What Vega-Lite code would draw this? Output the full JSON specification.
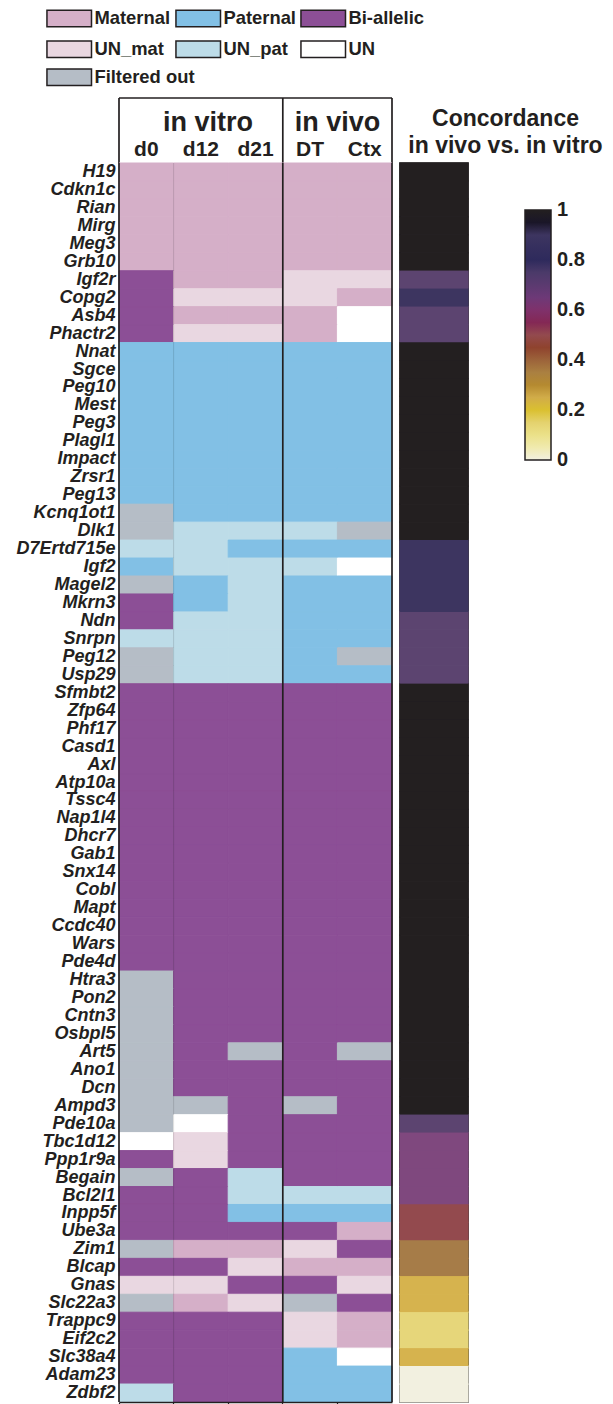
{
"$schema": "https://vega.github.io/schema/vega-lite/v6.json",
"background": "white",
"padding": {"left": 15, "top": 9, "right": 0, "bottom": 0},
"config": {"view": {"stroke": null}, "font": "Liberation Sans", "text": {"color": "#231F20", "font": "Liberation Sans"}},
"datasets": {
"cells": [
{"gene":"H19","sample":"d0","status":"Maternal"},{"gene":"H19","sample":"d12","status":"Maternal"},{"gene":"H19","sample":"d21","status":"Maternal"},{"gene":"H19","sample":"DT","status":"Maternal"},{"gene":"H19","sample":"Ctx","status":"Maternal"},
{"gene":"Cdkn1c","sample":"d0","status":"Maternal"},{"gene":"Cdkn1c","sample":"d12","status":"Maternal"},{"gene":"Cdkn1c","sample":"d21","status":"Maternal"},{"gene":"Cdkn1c","sample":"DT","status":"Maternal"},{"gene":"Cdkn1c","sample":"Ctx","status":"Maternal"},
{"gene":"Rian","sample":"d0","status":"Maternal"},{"gene":"Rian","sample":"d12","status":"Maternal"},{"gene":"Rian","sample":"d21","status":"Maternal"},{"gene":"Rian","sample":"DT","status":"Maternal"},{"gene":"Rian","sample":"Ctx","status":"Maternal"},
{"gene":"Mirg","sample":"d0","status":"Maternal"},{"gene":"Mirg","sample":"d12","status":"Maternal"},{"gene":"Mirg","sample":"d21","status":"Maternal"},{"gene":"Mirg","sample":"DT","status":"Maternal"},{"gene":"Mirg","sample":"Ctx","status":"Maternal"},
{"gene":"Meg3","sample":"d0","status":"Maternal"},{"gene":"Meg3","sample":"d12","status":"Maternal"},{"gene":"Meg3","sample":"d21","status":"Maternal"},{"gene":"Meg3","sample":"DT","status":"Maternal"},{"gene":"Meg3","sample":"Ctx","status":"Maternal"},
{"gene":"Grb10","sample":"d0","status":"Maternal"},{"gene":"Grb10","sample":"d12","status":"Maternal"},{"gene":"Grb10","sample":"d21","status":"Maternal"},{"gene":"Grb10","sample":"DT","status":"Maternal"},{"gene":"Grb10","sample":"Ctx","status":"Maternal"},
{"gene":"Igf2r","sample":"d0","status":"Bi-allelic"},{"gene":"Igf2r","sample":"d12","status":"Maternal"},{"gene":"Igf2r","sample":"d21","status":"Maternal"},{"gene":"Igf2r","sample":"DT","status":"UN_mat"},{"gene":"Igf2r","sample":"Ctx","status":"UN_mat"},
{"gene":"Copg2","sample":"d0","status":"Bi-allelic"},{"gene":"Copg2","sample":"d12","status":"UN_mat"},{"gene":"Copg2","sample":"d21","status":"UN_mat"},{"gene":"Copg2","sample":"DT","status":"UN_mat"},{"gene":"Copg2","sample":"Ctx","status":"Maternal"},
{"gene":"Asb4","sample":"d0","status":"Bi-allelic"},{"gene":"Asb4","sample":"d12","status":"Maternal"},{"gene":"Asb4","sample":"d21","status":"Maternal"},{"gene":"Asb4","sample":"DT","status":"Maternal"},{"gene":"Asb4","sample":"Ctx","status":"UN"},
{"gene":"Phactr2","sample":"d0","status":"Bi-allelic"},{"gene":"Phactr2","sample":"d12","status":"UN_mat"},{"gene":"Phactr2","sample":"d21","status":"UN_mat"},{"gene":"Phactr2","sample":"DT","status":"Maternal"},{"gene":"Phactr2","sample":"Ctx","status":"UN"},
{"gene":"Nnat","sample":"d0","status":"Paternal"},{"gene":"Nnat","sample":"d12","status":"Paternal"},{"gene":"Nnat","sample":"d21","status":"Paternal"},{"gene":"Nnat","sample":"DT","status":"Paternal"},{"gene":"Nnat","sample":"Ctx","status":"Paternal"},
{"gene":"Sgce","sample":"d0","status":"Paternal"},{"gene":"Sgce","sample":"d12","status":"Paternal"},{"gene":"Sgce","sample":"d21","status":"Paternal"},{"gene":"Sgce","sample":"DT","status":"Paternal"},{"gene":"Sgce","sample":"Ctx","status":"Paternal"},
{"gene":"Peg10","sample":"d0","status":"Paternal"},{"gene":"Peg10","sample":"d12","status":"Paternal"},{"gene":"Peg10","sample":"d21","status":"Paternal"},{"gene":"Peg10","sample":"DT","status":"Paternal"},{"gene":"Peg10","sample":"Ctx","status":"Paternal"},
{"gene":"Mest","sample":"d0","status":"Paternal"},{"gene":"Mest","sample":"d12","status":"Paternal"},{"gene":"Mest","sample":"d21","status":"Paternal"},{"gene":"Mest","sample":"DT","status":"Paternal"},{"gene":"Mest","sample":"Ctx","status":"Paternal"},
{"gene":"Peg3","sample":"d0","status":"Paternal"},{"gene":"Peg3","sample":"d12","status":"Paternal"},{"gene":"Peg3","sample":"d21","status":"Paternal"},{"gene":"Peg3","sample":"DT","status":"Paternal"},{"gene":"Peg3","sample":"Ctx","status":"Paternal"},
{"gene":"Plagl1","sample":"d0","status":"Paternal"},{"gene":"Plagl1","sample":"d12","status":"Paternal"},{"gene":"Plagl1","sample":"d21","status":"Paternal"},{"gene":"Plagl1","sample":"DT","status":"Paternal"},{"gene":"Plagl1","sample":"Ctx","status":"Paternal"},
{"gene":"Impact","sample":"d0","status":"Paternal"},{"gene":"Impact","sample":"d12","status":"Paternal"},{"gene":"Impact","sample":"d21","status":"Paternal"},{"gene":"Impact","sample":"DT","status":"Paternal"},{"gene":"Impact","sample":"Ctx","status":"Paternal"},
{"gene":"Zrsr1","sample":"d0","status":"Paternal"},{"gene":"Zrsr1","sample":"d12","status":"Paternal"},{"gene":"Zrsr1","sample":"d21","status":"Paternal"},{"gene":"Zrsr1","sample":"DT","status":"Paternal"},{"gene":"Zrsr1","sample":"Ctx","status":"Paternal"},
{"gene":"Peg13","sample":"d0","status":"Paternal"},{"gene":"Peg13","sample":"d12","status":"Paternal"},{"gene":"Peg13","sample":"d21","status":"Paternal"},{"gene":"Peg13","sample":"DT","status":"Paternal"},{"gene":"Peg13","sample":"Ctx","status":"Paternal"},
{"gene":"Kcnq1ot1","sample":"d0","status":"Filtered out"},{"gene":"Kcnq1ot1","sample":"d12","status":"Paternal"},{"gene":"Kcnq1ot1","sample":"d21","status":"Paternal"},{"gene":"Kcnq1ot1","sample":"DT","status":"Paternal"},{"gene":"Kcnq1ot1","sample":"Ctx","status":"Paternal"},
{"gene":"Dlk1","sample":"d0","status":"Filtered out"},{"gene":"Dlk1","sample":"d12","status":"UN_pat"},{"gene":"Dlk1","sample":"d21","status":"UN_pat"},{"gene":"Dlk1","sample":"DT","status":"UN_pat"},{"gene":"Dlk1","sample":"Ctx","status":"Filtered out"},
{"gene":"D7Ertd715e","sample":"d0","status":"UN_pat"},{"gene":"D7Ertd715e","sample":"d12","status":"UN_pat"},{"gene":"D7Ertd715e","sample":"d21","status":"Paternal"},{"gene":"D7Ertd715e","sample":"DT","status":"Paternal"},{"gene":"D7Ertd715e","sample":"Ctx","status":"Paternal"},
{"gene":"Igf2","sample":"d0","status":"Paternal"},{"gene":"Igf2","sample":"d12","status":"UN_pat"},{"gene":"Igf2","sample":"d21","status":"UN_pat"},{"gene":"Igf2","sample":"DT","status":"UN_pat"},{"gene":"Igf2","sample":"Ctx","status":"UN"},
{"gene":"Magel2","sample":"d0","status":"Filtered out"},{"gene":"Magel2","sample":"d12","status":"Paternal"},{"gene":"Magel2","sample":"d21","status":"UN_pat"},{"gene":"Magel2","sample":"DT","status":"Paternal"},{"gene":"Magel2","sample":"Ctx","status":"Paternal"},
{"gene":"Mkrn3","sample":"d0","status":"Bi-allelic"},{"gene":"Mkrn3","sample":"d12","status":"Paternal"},{"gene":"Mkrn3","sample":"d21","status":"UN_pat"},{"gene":"Mkrn3","sample":"DT","status":"Paternal"},{"gene":"Mkrn3","sample":"Ctx","status":"Paternal"},
{"gene":"Ndn","sample":"d0","status":"Bi-allelic"},{"gene":"Ndn","sample":"d12","status":"UN_pat"},{"gene":"Ndn","sample":"d21","status":"UN_pat"},{"gene":"Ndn","sample":"DT","status":"Paternal"},{"gene":"Ndn","sample":"Ctx","status":"Paternal"},
{"gene":"Snrpn","sample":"d0","status":"UN_pat"},{"gene":"Snrpn","sample":"d12","status":"UN_pat"},{"gene":"Snrpn","sample":"d21","status":"UN_pat"},{"gene":"Snrpn","sample":"DT","status":"Paternal"},{"gene":"Snrpn","sample":"Ctx","status":"Paternal"},
{"gene":"Peg12","sample":"d0","status":"Filtered out"},{"gene":"Peg12","sample":"d12","status":"UN_pat"},{"gene":"Peg12","sample":"d21","status":"UN_pat"},{"gene":"Peg12","sample":"DT","status":"Paternal"},{"gene":"Peg12","sample":"Ctx","status":"Filtered out"},
{"gene":"Usp29","sample":"d0","status":"Filtered out"},{"gene":"Usp29","sample":"d12","status":"UN_pat"},{"gene":"Usp29","sample":"d21","status":"UN_pat"},{"gene":"Usp29","sample":"DT","status":"Paternal"},{"gene":"Usp29","sample":"Ctx","status":"Paternal"},
{"gene":"Sfmbt2","sample":"d0","status":"Bi-allelic"},{"gene":"Sfmbt2","sample":"d12","status":"Bi-allelic"},{"gene":"Sfmbt2","sample":"d21","status":"Bi-allelic"},{"gene":"Sfmbt2","sample":"DT","status":"Bi-allelic"},{"gene":"Sfmbt2","sample":"Ctx","status":"Bi-allelic"},
{"gene":"Zfp64","sample":"d0","status":"Bi-allelic"},{"gene":"Zfp64","sample":"d12","status":"Bi-allelic"},{"gene":"Zfp64","sample":"d21","status":"Bi-allelic"},{"gene":"Zfp64","sample":"DT","status":"Bi-allelic"},{"gene":"Zfp64","sample":"Ctx","status":"Bi-allelic"},
{"gene":"Phf17","sample":"d0","status":"Bi-allelic"},{"gene":"Phf17","sample":"d12","status":"Bi-allelic"},{"gene":"Phf17","sample":"d21","status":"Bi-allelic"},{"gene":"Phf17","sample":"DT","status":"Bi-allelic"},{"gene":"Phf17","sample":"Ctx","status":"Bi-allelic"},
{"gene":"Casd1","sample":"d0","status":"Bi-allelic"},{"gene":"Casd1","sample":"d12","status":"Bi-allelic"},{"gene":"Casd1","sample":"d21","status":"Bi-allelic"},{"gene":"Casd1","sample":"DT","status":"Bi-allelic"},{"gene":"Casd1","sample":"Ctx","status":"Bi-allelic"},
{"gene":"Axl","sample":"d0","status":"Bi-allelic"},{"gene":"Axl","sample":"d12","status":"Bi-allelic"},{"gene":"Axl","sample":"d21","status":"Bi-allelic"},{"gene":"Axl","sample":"DT","status":"Bi-allelic"},{"gene":"Axl","sample":"Ctx","status":"Bi-allelic"},
{"gene":"Atp10a","sample":"d0","status":"Bi-allelic"},{"gene":"Atp10a","sample":"d12","status":"Bi-allelic"},{"gene":"Atp10a","sample":"d21","status":"Bi-allelic"},{"gene":"Atp10a","sample":"DT","status":"Bi-allelic"},{"gene":"Atp10a","sample":"Ctx","status":"Bi-allelic"},
{"gene":"Tssc4","sample":"d0","status":"Bi-allelic"},{"gene":"Tssc4","sample":"d12","status":"Bi-allelic"},{"gene":"Tssc4","sample":"d21","status":"Bi-allelic"},{"gene":"Tssc4","sample":"DT","status":"Bi-allelic"},{"gene":"Tssc4","sample":"Ctx","status":"Bi-allelic"},
{"gene":"Nap1l4","sample":"d0","status":"Bi-allelic"},{"gene":"Nap1l4","sample":"d12","status":"Bi-allelic"},{"gene":"Nap1l4","sample":"d21","status":"Bi-allelic"},{"gene":"Nap1l4","sample":"DT","status":"Bi-allelic"},{"gene":"Nap1l4","sample":"Ctx","status":"Bi-allelic"},
{"gene":"Dhcr7","sample":"d0","status":"Bi-allelic"},{"gene":"Dhcr7","sample":"d12","status":"Bi-allelic"},{"gene":"Dhcr7","sample":"d21","status":"Bi-allelic"},{"gene":"Dhcr7","sample":"DT","status":"Bi-allelic"},{"gene":"Dhcr7","sample":"Ctx","status":"Bi-allelic"},
{"gene":"Gab1","sample":"d0","status":"Bi-allelic"},{"gene":"Gab1","sample":"d12","status":"Bi-allelic"},{"gene":"Gab1","sample":"d21","status":"Bi-allelic"},{"gene":"Gab1","sample":"DT","status":"Bi-allelic"},{"gene":"Gab1","sample":"Ctx","status":"Bi-allelic"},
{"gene":"Snx14","sample":"d0","status":"Bi-allelic"},{"gene":"Snx14","sample":"d12","status":"Bi-allelic"},{"gene":"Snx14","sample":"d21","status":"Bi-allelic"},{"gene":"Snx14","sample":"DT","status":"Bi-allelic"},{"gene":"Snx14","sample":"Ctx","status":"Bi-allelic"},
{"gene":"Cobl","sample":"d0","status":"Bi-allelic"},{"gene":"Cobl","sample":"d12","status":"Bi-allelic"},{"gene":"Cobl","sample":"d21","status":"Bi-allelic"},{"gene":"Cobl","sample":"DT","status":"Bi-allelic"},{"gene":"Cobl","sample":"Ctx","status":"Bi-allelic"},
{"gene":"Mapt","sample":"d0","status":"Bi-allelic"},{"gene":"Mapt","sample":"d12","status":"Bi-allelic"},{"gene":"Mapt","sample":"d21","status":"Bi-allelic"},{"gene":"Mapt","sample":"DT","status":"Bi-allelic"},{"gene":"Mapt","sample":"Ctx","status":"Bi-allelic"},
{"gene":"Ccdc40","sample":"d0","status":"Bi-allelic"},{"gene":"Ccdc40","sample":"d12","status":"Bi-allelic"},{"gene":"Ccdc40","sample":"d21","status":"Bi-allelic"},{"gene":"Ccdc40","sample":"DT","status":"Bi-allelic"},{"gene":"Ccdc40","sample":"Ctx","status":"Bi-allelic"},
{"gene":"Wars","sample":"d0","status":"Bi-allelic"},{"gene":"Wars","sample":"d12","status":"Bi-allelic"},{"gene":"Wars","sample":"d21","status":"Bi-allelic"},{"gene":"Wars","sample":"DT","status":"Bi-allelic"},{"gene":"Wars","sample":"Ctx","status":"Bi-allelic"},
{"gene":"Pde4d","sample":"d0","status":"Bi-allelic"},{"gene":"Pde4d","sample":"d12","status":"Bi-allelic"},{"gene":"Pde4d","sample":"d21","status":"Bi-allelic"},{"gene":"Pde4d","sample":"DT","status":"Bi-allelic"},{"gene":"Pde4d","sample":"Ctx","status":"Bi-allelic"},
{"gene":"Htra3","sample":"d0","status":"Filtered out"},{"gene":"Htra3","sample":"d12","status":"Bi-allelic"},{"gene":"Htra3","sample":"d21","status":"Bi-allelic"},{"gene":"Htra3","sample":"DT","status":"Bi-allelic"},{"gene":"Htra3","sample":"Ctx","status":"Bi-allelic"},
{"gene":"Pon2","sample":"d0","status":"Filtered out"},{"gene":"Pon2","sample":"d12","status":"Bi-allelic"},{"gene":"Pon2","sample":"d21","status":"Bi-allelic"},{"gene":"Pon2","sample":"DT","status":"Bi-allelic"},{"gene":"Pon2","sample":"Ctx","status":"Bi-allelic"},
{"gene":"Cntn3","sample":"d0","status":"Filtered out"},{"gene":"Cntn3","sample":"d12","status":"Bi-allelic"},{"gene":"Cntn3","sample":"d21","status":"Bi-allelic"},{"gene":"Cntn3","sample":"DT","status":"Bi-allelic"},{"gene":"Cntn3","sample":"Ctx","status":"Bi-allelic"},
{"gene":"Osbpl5","sample":"d0","status":"Filtered out"},{"gene":"Osbpl5","sample":"d12","status":"Bi-allelic"},{"gene":"Osbpl5","sample":"d21","status":"Bi-allelic"},{"gene":"Osbpl5","sample":"DT","status":"Bi-allelic"},{"gene":"Osbpl5","sample":"Ctx","status":"Bi-allelic"},
{"gene":"Art5","sample":"d0","status":"Filtered out"},{"gene":"Art5","sample":"d12","status":"Bi-allelic"},{"gene":"Art5","sample":"d21","status":"Filtered out"},{"gene":"Art5","sample":"DT","status":"Bi-allelic"},{"gene":"Art5","sample":"Ctx","status":"Filtered out"},
{"gene":"Ano1","sample":"d0","status":"Filtered out"},{"gene":"Ano1","sample":"d12","status":"Bi-allelic"},{"gene":"Ano1","sample":"d21","status":"Bi-allelic"},{"gene":"Ano1","sample":"DT","status":"Bi-allelic"},{"gene":"Ano1","sample":"Ctx","status":"Bi-allelic"},
{"gene":"Dcn","sample":"d0","status":"Filtered out"},{"gene":"Dcn","sample":"d12","status":"Bi-allelic"},{"gene":"Dcn","sample":"d21","status":"Bi-allelic"},{"gene":"Dcn","sample":"DT","status":"Bi-allelic"},{"gene":"Dcn","sample":"Ctx","status":"Bi-allelic"},
{"gene":"Ampd3","sample":"d0","status":"Filtered out"},{"gene":"Ampd3","sample":"d12","status":"Filtered out"},{"gene":"Ampd3","sample":"d21","status":"Bi-allelic"},{"gene":"Ampd3","sample":"DT","status":"Filtered out"},{"gene":"Ampd3","sample":"Ctx","status":"Bi-allelic"},
{"gene":"Pde10a","sample":"d0","status":"Filtered out"},{"gene":"Pde10a","sample":"d12","status":"UN"},{"gene":"Pde10a","sample":"d21","status":"Bi-allelic"},{"gene":"Pde10a","sample":"DT","status":"Bi-allelic"},{"gene":"Pde10a","sample":"Ctx","status":"Bi-allelic"},
{"gene":"Tbc1d12","sample":"d0","status":"UN"},{"gene":"Tbc1d12","sample":"d12","status":"UN_mat"},{"gene":"Tbc1d12","sample":"d21","status":"Bi-allelic"},{"gene":"Tbc1d12","sample":"DT","status":"Bi-allelic"},{"gene":"Tbc1d12","sample":"Ctx","status":"Bi-allelic"},
{"gene":"Ppp1r9a","sample":"d0","status":"Bi-allelic"},{"gene":"Ppp1r9a","sample":"d12","status":"UN_mat"},{"gene":"Ppp1r9a","sample":"d21","status":"Bi-allelic"},{"gene":"Ppp1r9a","sample":"DT","status":"Bi-allelic"},{"gene":"Ppp1r9a","sample":"Ctx","status":"Bi-allelic"},
{"gene":"Begain","sample":"d0","status":"Filtered out"},{"gene":"Begain","sample":"d12","status":"Bi-allelic"},{"gene":"Begain","sample":"d21","status":"UN_pat"},{"gene":"Begain","sample":"DT","status":"Bi-allelic"},{"gene":"Begain","sample":"Ctx","status":"Bi-allelic"},
{"gene":"Bcl2l1","sample":"d0","status":"Bi-allelic"},{"gene":"Bcl2l1","sample":"d12","status":"Bi-allelic"},{"gene":"Bcl2l1","sample":"d21","status":"UN_pat"},{"gene":"Bcl2l1","sample":"DT","status":"UN_pat"},{"gene":"Bcl2l1","sample":"Ctx","status":"UN_pat"},
{"gene":"Inpp5f","sample":"d0","status":"Bi-allelic"},{"gene":"Inpp5f","sample":"d12","status":"Bi-allelic"},{"gene":"Inpp5f","sample":"d21","status":"Paternal"},{"gene":"Inpp5f","sample":"DT","status":"Paternal"},{"gene":"Inpp5f","sample":"Ctx","status":"Paternal"},
{"gene":"Ube3a","sample":"d0","status":"Bi-allelic"},{"gene":"Ube3a","sample":"d12","status":"Bi-allelic"},{"gene":"Ube3a","sample":"d21","status":"Bi-allelic"},{"gene":"Ube3a","sample":"DT","status":"Bi-allelic"},{"gene":"Ube3a","sample":"Ctx","status":"Maternal"},
{"gene":"Zim1","sample":"d0","status":"Filtered out"},{"gene":"Zim1","sample":"d12","status":"Maternal"},{"gene":"Zim1","sample":"d21","status":"Maternal"},{"gene":"Zim1","sample":"DT","status":"UN_mat"},{"gene":"Zim1","sample":"Ctx","status":"Bi-allelic"},
{"gene":"Blcap","sample":"d0","status":"Bi-allelic"},{"gene":"Blcap","sample":"d12","status":"Bi-allelic"},{"gene":"Blcap","sample":"d21","status":"UN_mat"},{"gene":"Blcap","sample":"DT","status":"Maternal"},{"gene":"Blcap","sample":"Ctx","status":"Maternal"},
{"gene":"Gnas","sample":"d0","status":"UN_mat"},{"gene":"Gnas","sample":"d12","status":"UN_mat"},{"gene":"Gnas","sample":"d21","status":"Bi-allelic"},{"gene":"Gnas","sample":"DT","status":"Bi-allelic"},{"gene":"Gnas","sample":"Ctx","status":"UN_mat"},
{"gene":"Slc22a3","sample":"d0","status":"Filtered out"},{"gene":"Slc22a3","sample":"d12","status":"Maternal"},{"gene":"Slc22a3","sample":"d21","status":"UN_mat"},{"gene":"Slc22a3","sample":"DT","status":"Filtered out"},{"gene":"Slc22a3","sample":"Ctx","status":"Bi-allelic"},
{"gene":"Trappc9","sample":"d0","status":"Bi-allelic"},{"gene":"Trappc9","sample":"d12","status":"Bi-allelic"},{"gene":"Trappc9","sample":"d21","status":"Bi-allelic"},{"gene":"Trappc9","sample":"DT","status":"UN_mat"},{"gene":"Trappc9","sample":"Ctx","status":"Maternal"},
{"gene":"Eif2c2","sample":"d0","status":"Bi-allelic"},{"gene":"Eif2c2","sample":"d12","status":"Bi-allelic"},{"gene":"Eif2c2","sample":"d21","status":"Bi-allelic"},{"gene":"Eif2c2","sample":"DT","status":"UN_mat"},{"gene":"Eif2c2","sample":"Ctx","status":"Maternal"},
{"gene":"Slc38a4","sample":"d0","status":"Bi-allelic"},{"gene":"Slc38a4","sample":"d12","status":"Bi-allelic"},{"gene":"Slc38a4","sample":"d21","status":"Bi-allelic"},{"gene":"Slc38a4","sample":"DT","status":"Paternal"},{"gene":"Slc38a4","sample":"Ctx","status":"UN"},
{"gene":"Adam23","sample":"d0","status":"Bi-allelic"},{"gene":"Adam23","sample":"d12","status":"Bi-allelic"},{"gene":"Adam23","sample":"d21","status":"Bi-allelic"},{"gene":"Adam23","sample":"DT","status":"Paternal"},{"gene":"Adam23","sample":"Ctx","status":"Paternal"},
{"gene":"Zdbf2","sample":"d0","status":"UN_pat"},{"gene":"Zdbf2","sample":"d12","status":"Bi-allelic"},{"gene":"Zdbf2","sample":"d21","status":"Bi-allelic"},{"gene":"Zdbf2","sample":"DT","status":"Paternal"},{"gene":"Zdbf2","sample":"Ctx","status":"Paternal"}
],
"conc": [
{"gene":"H19","concordance":1},{"gene":"Cdkn1c","concordance":1},{"gene":"Rian","concordance":1},{"gene":"Mirg","concordance":1},{"gene":"Meg3","concordance":1},{"gene":"Grb10","concordance":1},
{"gene":"Igf2r","concordance":0.72},{"gene":"Copg2","concordance":0.9},{"gene":"Asb4","concordance":0.72},{"gene":"Phactr2","concordance":0.72},
{"gene":"Nnat","concordance":1},{"gene":"Sgce","concordance":1},{"gene":"Peg10","concordance":1},{"gene":"Mest","concordance":1},{"gene":"Peg3","concordance":1},{"gene":"Plagl1","concordance":1},{"gene":"Impact","concordance":1},{"gene":"Zrsr1","concordance":1},{"gene":"Peg13","concordance":1},{"gene":"Kcnq1ot1","concordance":1},{"gene":"Dlk1","concordance":1},
{"gene":"D7Ertd715e","concordance":0.9},{"gene":"Igf2","concordance":0.9},{"gene":"Magel2","concordance":0.9},{"gene":"Mkrn3","concordance":0.9},
{"gene":"Ndn","concordance":0.72},{"gene":"Snrpn","concordance":0.72},{"gene":"Peg12","concordance":0.72},{"gene":"Usp29","concordance":0.72},
{"gene":"Sfmbt2","concordance":1},{"gene":"Zfp64","concordance":1},{"gene":"Phf17","concordance":1},{"gene":"Casd1","concordance":1},{"gene":"Axl","concordance":1},{"gene":"Atp10a","concordance":1},{"gene":"Tssc4","concordance":1},{"gene":"Nap1l4","concordance":1},{"gene":"Dhcr7","concordance":1},{"gene":"Gab1","concordance":1},{"gene":"Snx14","concordance":1},{"gene":"Cobl","concordance":1},{"gene":"Mapt","concordance":1},{"gene":"Ccdc40","concordance":1},{"gene":"Wars","concordance":1},{"gene":"Pde4d","concordance":1},
{"gene":"Htra3","concordance":1},{"gene":"Pon2","concordance":1},{"gene":"Cntn3","concordance":1},{"gene":"Osbpl5","concordance":1},{"gene":"Art5","concordance":1},{"gene":"Ano1","concordance":1},{"gene":"Dcn","concordance":1},{"gene":"Ampd3","concordance":1},
{"gene":"Pde10a","concordance":0.72},
{"gene":"Tbc1d12","concordance":0.63},{"gene":"Ppp1r9a","concordance":0.63},{"gene":"Begain","concordance":0.63},{"gene":"Bcl2l1","concordance":0.63},
{"gene":"Inpp5f","concordance":0.5},{"gene":"Ube3a","concordance":0.5},
{"gene":"Zim1","concordance":0.37},{"gene":"Blcap","concordance":0.37},
{"gene":"Gnas","concordance":0.24},{"gene":"Slc22a3","concordance":0.24},
{"gene":"Trappc9","concordance":0.14},{"gene":"Eif2c2","concordance":0.14},
{"gene":"Slc38a4","concordance":0.24},
{"gene":"Adam23","concordance":0},{"gene":"Zdbf2","concordance":0}
]
},
"columns": 2,
"spacing": {"row": 0, "column": 8},
"bounds": "flush",
"align": "each",
"resolve": {"scale": {"fill": "independent", "stroke": "independent"}, "legend": {"fill": "independent", "stroke": "independent"}},
"concat": [
{
 "width": 273, "height": 65,
 "layer": [
  {
   "data": {"name": "cells"},
   "mark": {"type": "rect", "opacity": 0},
   "encoding": {
    "fill": {"field": "status", "type": "nominal",
     "scale": {"domain": ["Maternal","Paternal","Bi-allelic","UN_mat","UN_pat","UN","Filtered out"], "range": ["#D5AFC8","#82C0E5","#8C4F96","#E9D7E1","#BDDCE8","#FFFFFF","#B5BDC6"]},
     "legend": {"orient": "none", "legendX": -73, "legendY": -89, "direction": "horizontal", "columns": 3, "title": null, "padding": 0,
      "values": ["Maternal","Paternal","Bi-allelic","UN_mat","UN_pat","UN"],
      "symbolType": "M-1,-1H4.4V1H-1Z", "symbolSize": 272.25, "symbolStrokeColor": "#231F20", "symbolStrokeWidth": 1.5,
      "labelOffset": 30, "columnPadding": 1, "rowPadding": 7,
      "labelFont": "Liberation Sans", "labelFontSize": 18.4, "labelFontWeight": "bold", "labelColor": "#231F20",
      "encode": {"symbols": {"update": {"opacity": {"value": 1}, "stroke": {"value": "#231F20"}, "strokeWidth": {"value": 1.5}}}}}
    }
   }
  },
  {
   "data": {"name": "cells"},
   "transform": [{"filter": "datum.status === 'Filtered out'"}],
   "mark": {"type": "rect", "opacity": 0, "fill": "#B5BDC6", "color": "#B5BDC6"},
   "encoding": {
    "stroke": {"field": "status", "type": "nominal",
     "scale": {"domain": ["Filtered out"], "range": ["#231F20"]},
     "legend": {"orient": "none", "legendX": -73, "legendY": -30, "title": null, "padding": 0,
      "symbolType": "M-1,-1H4.4V1H-1Z", "symbolSize": 272.25, "symbolFillColor": "#B5BDC6", "symbolStrokeWidth": 1.5,
      "labelOffset": 30,
      "labelFont": "Liberation Sans", "labelFontSize": 18.4, "labelFontWeight": "bold", "labelColor": "#231F20",
      "encode": {"symbols": {"update": {"opacity": {"value": 1}, "fill": {"value": "#B5BDC6"}, "fillOpacity": {"value": 1}, "stroke": {"value": "#231F20"}, "strokeWidth": {"value": 1.5}}}}}
    }
   }
  },
  {
   "data": {"values": [{}]},
   "mark": {"type": "text", "text": "in vitro", "fontSize": 27, "fontWeight": "bold", "baseline": "alphabetic", "dx": 7},
   "encoding": {
    "x": {"datum": "d12", "type": "nominal", "scale": {"type": "band", "domain": ["d0","d12","d21","DT","Ctx"]}, "axis": null},
    "y": {"datum": "upper", "type": "nominal", "bandPosition": 1, "scale": {"type": "band", "domain": ["upper","lower"]}, "axis": null}
   }
  },
  {
   "data": {"values": [{}]},
   "mark": {"type": "text", "text": "in vivo", "fontSize": 27, "fontWeight": "bold", "baseline": "alphabetic"},
   "encoding": {
    "x": {"datum": "Ctx", "type": "nominal", "bandPosition": 0, "scale": {"type": "band", "domain": ["d0","d12","d21","DT","Ctx"]}, "axis": null},
    "y": {"datum": "upper", "type": "nominal", "bandPosition": 1, "scale": {"type": "band", "domain": ["upper","lower"]}, "axis": null}
   }
  },
  {
   "data": {"name": "cells"},
   "transform": [{"filter": "datum.gene === 'H19'"}],
   "mark": {"type": "text", "fontSize": 21, "fontWeight": "bold", "baseline": "bottom"},
   "encoding": {
    "x": {"field": "sample", "type": "nominal", "scale": {"type": "band", "domain": ["d0","d12","d21","DT","Ctx"]}, "axis": null},
    "y": {"datum": "lower", "type": "nominal", "bandPosition": 0.92, "scale": {"type": "band", "domain": ["upper","lower"]}, "axis": null},
    "text": {"field": "sample"}
   }
  },
  {
   "data": {"values": [{}]},
   "mark": {"type": "rule", "strokeWidth": 1.7, "color": "#231F20"},
   "encoding": {"y": {"datum": "upper", "type": "nominal", "bandPosition": 0, "scale": {"type": "band", "domain": ["upper","lower"]}, "axis": null}}
  },
  {
   "data": {"values": [{}]},
   "mark": {"type": "rule", "strokeWidth": 1.7, "color": "#231F20"},
   "encoding": {"x": {"datum": "d0", "type": "nominal", "bandPosition": 0, "scale": {"type": "band", "domain": ["d0","d12","d21","DT","Ctx"]}, "axis": null}}
  },
  {
   "data": {"values": [{}]},
   "mark": {"type": "rule", "strokeWidth": 1.7, "color": "#231F20"},
   "encoding": {"x": {"datum": "DT", "type": "nominal", "bandPosition": 0, "scale": {"type": "band", "domain": ["d0","d12","d21","DT","Ctx"]}, "axis": null}}
  },
  {
   "data": {"values": [{}]},
   "mark": {"type": "rule", "strokeWidth": 1.7, "color": "#231F20"},
   "encoding": {"x": {"datum": "Ctx", "type": "nominal", "bandPosition": 1, "scale": {"type": "band", "domain": ["d0","d12","d21","DT","Ctx"]}, "axis": null}}
  }
 ]
},
{
 "width": 211, "height": 65,
 "data": {"values": [{}]},
 "layer": [
  {
   "mark": {"type": "text", "text": "Concordance", "fontSize": 23, "fontWeight": "bold", "baseline": "bottom"},
   "encoding": {"y": {"datum": "upper", "type": "nominal", "bandPosition": 1, "scale": {"type": "band", "domain": ["upper","lower"]}, "axis": null}}
  },
  {
   "mark": {"type": "text", "text": "in vivo vs. in vitro", "fontSize": 23, "fontWeight": "bold", "baseline": "bottom"},
   "encoding": {"y": {"datum": "lower", "type": "nominal", "bandPosition": 0.85, "scale": {"type": "band", "domain": ["upper","lower"]}, "axis": null}}
  }
 ]
},
{
 "width": 273, "height": 1239,
 "layer": [
  {
   "data": {"name": "cells"},
   "mark": {"type": "rect", "strokeWidth": 1},
   "encoding": {
    "x": {"field": "sample", "type": "nominal", "sort": null, "scale": {"domain": ["d0","d12","d21","DT","Ctx"], "paddingInner": 0, "paddingOuter": 0},
     "axis": {"orient": "bottom", "title": null, "labels": false, "ticks": true, "tickSize": 4, "bandPosition": 0, "domain": true, "domainColor": "#231F20", "domainWidth": 1.7, "tickColor": "#231F20", "tickWidth": 1.2}},
    "y": {"field": "gene", "type": "nominal", "sort": null, "scale": {"paddingInner": 0, "paddingOuter": 0},
     "axis": {"title": null, "ticks": false, "domain": false, "labelFont": "Liberation Sans", "labelFontStyle": "italic", "labelFontWeight": "bold", "labelFontSize": 18, "labelColor": "#231F20", "labelPadding": 4}},
    "fill": {"field": "status", "type": "nominal",
     "scale": {"domain": ["Maternal","Paternal","Bi-allelic","UN_mat","UN_pat","UN","Filtered out"], "range": ["#D5AFC8","#82C0E5","#8C4F96","#E9D7E1","#BDDCE8","#FFFFFF","#B5BDC6"]},
     "legend": null},
    "stroke": {"field": "status", "type": "nominal",
     "scale": {"domain": ["Maternal","Paternal","Bi-allelic","UN_mat","UN_pat","UN","Filtered out"], "range": ["#D5AFC8","#82C0E5","#8C4F96","#E9D7E1","#BDDCE8","#FFFFFF","#B5BDC6"]},
     "legend": null}
   }
  },
  {
   "data": {"values": [{}]},
   "mark": {"type": "rule", "strokeWidth": 1, "color": "#000000", "opacity": 0.12},
   "encoding": {"x": {"datum": "d12", "type": "nominal", "bandPosition": 0}}
  },
  {
   "data": {"values": [{}]},
   "mark": {"type": "rule", "strokeWidth": 1.7, "color": "#231F20"},
   "encoding": {"x": {"datum": "d0", "type": "nominal", "bandPosition": 0}}
  },
  {
   "data": {"values": [{}]},
   "mark": {"type": "rule", "strokeWidth": 1.7, "color": "#231F20"},
   "encoding": {"x": {"datum": "DT", "type": "nominal", "bandPosition": 0}}
  },
  {
   "data": {"values": [{}]},
   "mark": {"type": "rule", "strokeWidth": 1.7, "color": "#231F20"},
   "encoding": {"x": {"datum": "Ctx", "type": "nominal", "bandPosition": 1}}
  }
 ]
},
{
 "width": 68, "height": 1239,
 "view": {"stroke": "#231F20", "strokeWidth": 1.7},
 "data": {"name": "conc"},
 "resolve": {"scale": {"stroke": "independent", "fill": "independent"}, "legend": {"stroke": "independent", "fill": "independent"}},
 "layer": [
  {
   "mark": {"type": "rect", "fill": null, "strokeWidth": 1.2},
   "encoding": {
    "y": {"field": "gene", "type": "nominal", "sort": null, "scale": {"paddingInner": 0, "paddingOuter": 0}, "axis": null},
    "stroke": {"field": "concordance", "type": "quantitative",
     "scale": {"domain": [0, 0.08, 0.14, 0.2, 0.24, 0.3, 0.37, 0.44, 0.5, 0.57, 0.63, 0.67, 0.72, 0.8, 0.9, 0.94, 0.96, 0.98, 1],
               "range": ["#F2F0E0","#EEE690","#E6D67A","#DAC030","#D6B34E","#B58A30","#A67C48","#8E4228","#934A4E","#7E1A58","#7F487E","#5A2A70","#5C4470","#2E2A5C","#3D3560","#100C30","#231F20","#231F20","#231F20"],
               "interpolate": "rgb"},
     "legend": null}
   }
  },
  {
   "mark": {"type": "rect"},
   "encoding": {
    "y": {"field": "gene", "type": "nominal", "sort": null, "scale": {"paddingInner": 0, "paddingOuter": 0}, "axis": null},
    "fill": {"field": "concordance", "type": "quantitative",
     "scale": {"domain": [0, 0.08, 0.14, 0.2, 0.24, 0.3, 0.37, 0.44, 0.5, 0.57, 0.63, 0.67, 0.72, 0.8, 0.9, 0.94, 0.96, 1],
               "range": ["#F2F0E0","#EEE690","#E6D67A","#DAC030","#D6B34E","#B58A30","#A67C48","#8E4228","#934A4E","#7E1A58","#7F487E","#5A2A70","#5C4470","#2E2A5C","#3D3560","#100C30","#231F20","#231F20"],
               "interpolate": "rgb"},
     "legend": {"type": "gradient", "orient": "none", "legendX": 125, "legendY": 47, "direction": "vertical", "title": null, "padding": 0,
      "gradientLength": 250, "gradientThickness": 26, "gradientStrokeColor": "#231F20", "gradientStrokeWidth": 1.5,
      "values": [0, 0.2, 0.4, 0.6, 0.8, 1], "format": ".1~f", "labelBaseline": "middle",
      "labelFont": "Liberation Sans", "labelFontSize": 20, "labelFontWeight": "bold", "labelColor": "#231F20", "labelOffset": 6,
      "encode": {"labels": {"enter": {"baseline": {"value": "middle"}}, "update": {"baseline": {"value": "middle"}}}}}}
   }
  }
 ]
}
]
}
